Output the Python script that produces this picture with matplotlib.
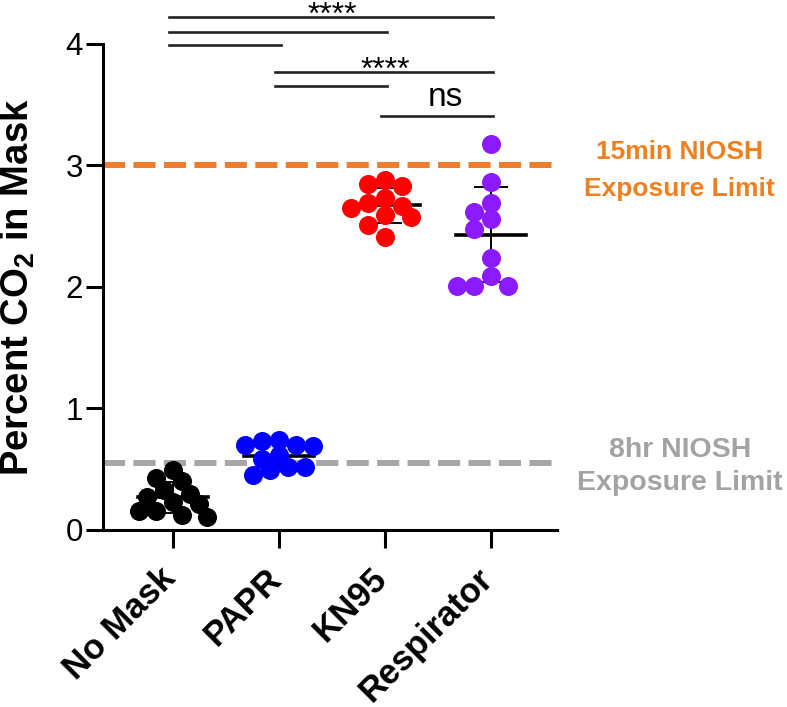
import numpy as np
import matplotlib
matplotlib.use("Agg")
import matplotlib.pyplot as plt

plt.rcParams['font.family'] = ['Liberation Sans', 'DejaVu Sans']
plt.rcParams['mathtext.fontset'] = 'custom'
plt.rcParams['mathtext.rm'] = 'Liberation Sans'
plt.rcParams['mathtext.bf'] = 'Liberation Sans:bold'

# dados (% CO2 dentro da mascara)
grupos = ['No Mask', 'PAPR', 'KN95', 'Respirator']
no_mask = [0.49, 0.43, 0.40, 0.33, 0.30, 0.27, 0.23, 0.21, 0.16, 0.16, 0.12, 0.11]
papr = [0.74, 0.73, 0.70, 0.70, 0.69, 0.62, 0.58, 0.52, 0.52, 0.49, 0.45]
kn95 = [2.88, 2.85, 2.83, 2.73, 2.69, 2.67, 2.65, 2.59, 2.58, 2.51, 2.41]
respirator = [3.18, 2.86, 2.69, 2.62, 2.56, 2.48, 2.24, 2.09, 2.01, 2.01, 2.01]
cores = ['black', '#0000FF', '#FF0000', '#8C1AFF']

# limites NIOSH
limite_15min = 3.0
limite_8hr = 0.55

# comparacoes (grupo a, grupo b), altura da barra e texto
comparacoes = [(0, 3), (0, 2), (0, 1), (1, 3), (1, 2), (2, 3)]
alturas = [4.22, 4.10, 3.99, 3.77, 3.65, 3.41]
textos = ['****', '', '', '****', '', 'ns']

fig = plt.figure(figsize=(7.87, 7.07), dpi=100)
ax = fig.add_axes([0.1309, 0.2504, 0.577, 0.6874])
ax.set_xlim(-0.66, 3.623)
ax.set_ylim(0, 4)

# linhas de limite
ax.axhline(limite_15min, color='#EE7D2B', lw=4.3, ls=(0, (3.7, 1.4)), zorder=1)
ax.axhline(limite_8hr, color='#A6A6A6', lw=4.3, ls=(0, (3.7, 1.4)), zorder=1)

fig.canvas.draw()
trans = ax.transData
px_x = trans.transform((1, 0))[0] - trans.transform((0, 0))[0]  # pixels por categoria
diam = 19.0  # diametro do marcador em pixels


def swarm(valores):
    # posicoes tipo "beeswarm" em pixels, permitindo sobreposicao
    ypix = trans.transform(np.column_stack([np.zeros(len(valores)), valores]))[:, 1]
    colocados = []
    offs = []
    passo = diam * 0.45
    for yp in ypix:
        for k in [0, -1, 1, -2, 2, -3, 3, -4, 4]:
            xo = k * passo
            if all((xo - a) ** 2 + (yp - b) ** 2 >= (diam * 0.72) ** 2 for a, b in colocados):
                break
        colocados.append((xo, yp))
        offs.append(xo / px_x)
    return np.array(offs)


for i, (vals, cor) in enumerate(zip([no_mask, papr, kn95, respirator], cores)):
    vals = np.array(vals)
    xs = i + swarm(vals)
    ax.plot(xs, vals, 'o', color=cor, markersize=13.7, markeredgewidth=0, zorder=4, clip_on=False)
    media = vals.mean()
    dp = vals.std(ddof=1)
    ax.plot([i - 0.33, i + 0.33], [media, media], color='black', lw=2.6, zorder=3)
    ax.errorbar(i, media, yerr=dp, color='black', lw=1.4, capsize=12, capthick=1.4, zorder=3)

# barras de significancia
for (a, b), h, t in zip(comparacoes, alturas, textos):
    ax.plot([a - 0.04, b + 0.02], [h, h], color='#222222', lw=1.9, clip_on=False)
    if t == '****':
        ax.annotate(t, xy=((a + b) / 2, h), xytext=(0, -5), textcoords='offset points',
                    ha='center', va='baseline', fontsize=23, annotation_clip=False)
    elif t:
        ax.annotate(t, xy=((a + b) / 2 + 0.07, h), xytext=(0, 7), textcoords='offset points',
                    ha='center', va='baseline', fontsize=24, annotation_clip=False)

# eixos estilo Prism
for lado in ['top', 'right']:
    ax.spines[lado].set_visible(False)
for lado in ['left', 'bottom']:
    ax.spines[lado].set_linewidth(2.2)
ax.set_yticks([0, 1, 2, 3, 4])
ax.set_xticks(range(len(grupos)))
ax.set_xticklabels([])
ax.tick_params(axis='y', direction='out', length=12.5, width=2.2, labelsize=22.5, pad=2)
ax.tick_params(axis='x', direction='out', length=13, width=2.2)

# rotulos do eixo x inclinados 45 graus
for i, nome in enumerate(grupos):
    ax.annotate(nome, xy=(i, 0), xycoords=('data', 'axes fraction'), xytext=(-10.5, -23),
                textcoords='offset points', rotation=45, ha='right', va='top',
                rotation_mode='anchor', fontsize=25, fontweight='bold', annotation_clip=False)

fig.text(18 / 787, 1 - 287 / 707, r'Percent CO$_\mathbf{2}$ in Mask', fontsize=27.5,
         fontweight='bold', rotation=90, ha='center', va='center')

fig.text(0.863, 0.759, '15min NIOSH\nExposure Limit', color='#F07F1E', fontsize=19,
         fontweight='bold', ha='center', va='center', linespacing=1.65)
fig.text(0.864, 0.340, '8hr NIOSH\nExposure Limit', color='#A3A3A3', fontsize=20.5,
         fontweight='bold', ha='center', va='center', linespacing=1.35)

fig.savefig('out.png', dpi=100)
